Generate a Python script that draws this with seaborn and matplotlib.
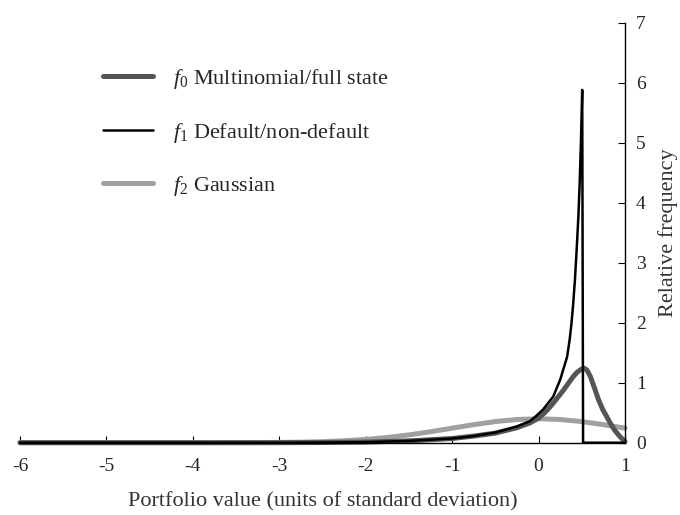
import numpy as np
import pandas as pd
import matplotlib
matplotlib.use("Agg")
import matplotlib.pyplot as plt
import seaborn as sns

# values
# f0: multinomial / full state
f0_x = [-6, -3, -2.5, -2, -1.5, -1, -0.75, -0.5, -0.25, -0.1, 0, 0.055, 0.11, 0.17, 0.23,
        0.29, 0.35, 0.40, 0.45, 0.50, 0.53, 0.56, 0.60, 0.65, 0.69, 0.74, 0.79, 0.84,
        0.88, 0.93, 0.97, 1.0]
f0_y = [0, 0, 0.003, 0.01, 0.03, 0.07, 0.11, 0.16, 0.25, 0.33, 0.41, 0.48, 0.56, 0.66, 0.77,
        0.88, 1.0, 1.10, 1.18, 1.23, 1.24, 1.21, 1.10, 0.90, 0.73, 0.56, 0.43, 0.30,
        0.21, 0.12, 0.06, 0.02]

# f1: default / non-default
f1_x = [-6, -3, -2.5, -2, -1.5, -1, -0.75, -0.5, -0.25, -0.1, -0.04, 0.05, 0.17, 0.25,
        0.33, 0.36, 0.38, 0.40, 0.42, 0.44, 0.46, 0.475, 0.49, 0.505, 0.515, 1.0]
f1_y = [0, 0, 0.003, 0.01, 0.03, 0.07, 0.11, 0.17, 0.27, 0.36, 0.43, 0.55, 0.77, 1.05,
        1.43, 1.72, 1.98, 2.30, 2.70, 3.20, 3.75, 4.30, 5.00, 5.88, 0, 0]

# f2: gaussian
f2_x = [-6, -5, -4, -3.5, -3, -2.75, -2.5, -2.25, -2, -1.75, -1.5, -1.25, -1, -0.75,
        -0.5, -0.25, 0, 0.25, 0.5, 0.75, 1.0]
f2_y = [0.0, 0.0, 0.0001, 0.0009, 0.0044, 0.0091, 0.0175, 0.0317, 0.054, 0.0863, 0.1295,
        0.1826, 0.242, 0.3011, 0.3521, 0.3867, 0.3989, 0.3867, 0.3521, 0.3011, 0.242]

labels = [r"$f_{\mathrm{0}}$ Multinomial/full state",
          r"$f_{\mathrm{1}}$ Default/non-default",
          r"$f_{\mathrm{2}}$ Gaussian"]
x_ticks = [-6, -5, -4, -3, -2, -1, 0, 1]
y_ticks = [0, 1, 2, 3, 4, 5, 6, 7]

sns.set_theme(style="white")
plt.rcParams["font.family"] = ["Liberation Serif", "DejaVu Serif"]
plt.rcParams["mathtext.fontset"] = "custom"
plt.rcParams["mathtext.rm"] = "Liberation Serif"
plt.rcParams["mathtext.it"] = "Liberation Serif:italic"
plt.rcParams["axes.unicode_minus"] = False

fig = plt.figure(figsize=(6.8, 5.15), dpi=100)
ax = fig.add_axes([20 / 680, 1 - 442.7 / 515, 605 / 680, 420 / 515])

sns.lineplot(x=f2_x, y=f2_y, sort=False, estimator=None, color="#a0a0a0", lw=3.6,
             ax=ax, label=labels[2], clip_on=False)
sns.lineplot(x=f0_x, y=f0_y, sort=False, estimator=None, color="#555555", lw=3.6,
             ax=ax, label=labels[0], clip_on=False)
sns.lineplot(x=f1_x, y=f1_y, sort=False, estimator=None, color="black", lw=1.8,
             ax=ax, label=labels[1], clip_on=False)

ax.set_xlim(-6, 1)
ax.set_ylim(0, 7)
ax.set_xticks(x_ticks)
ax.set_yticks(y_ticks)
ax.set_xticklabels([str(t) for t in x_ticks])

for s in ["left", "top"]:
    ax.spines[s].set_visible(False)
for s in ["right", "bottom"]:
    ax.spines[s].set_color("black")
    ax.spines[s].set_linewidth(1.0)

ax.yaxis.tick_right()
ax.yaxis.set_label_position("right")
ax.tick_params(axis="x", direction="in", length=5, width=0.8, color="black",
               labelsize=14, pad=11, bottom=True)
ax.tick_params(axis="y", direction="in", length=5, width=0.8, color="black",
               labelsize=14, pad=8, right=True, left=False)

ax.set_xlabel("Portfolio value (units of standard deviation)", fontsize=16,
              color="#333333", labelpad=12)
ax.set_ylabel("Relative frequency", fontsize=16, color="#333333", labelpad=9)

h, l = ax.get_legend_handles_labels()
order = [l.index(lab) for lab in labels]
ax.legend([h[i] for i in order], [l[i] for i in order], loc="upper left",
          bbox_to_anchor=(103 / 680, 1 - 67 / 515), bbox_transform=fig.transFigure,
          frameon=False, fontsize=16, handlelength=2.25, handletextpad=0.9,
          labelspacing=1.33, borderpad=0, borderaxespad=0)

fig.savefig("out.png", dpi=100)
